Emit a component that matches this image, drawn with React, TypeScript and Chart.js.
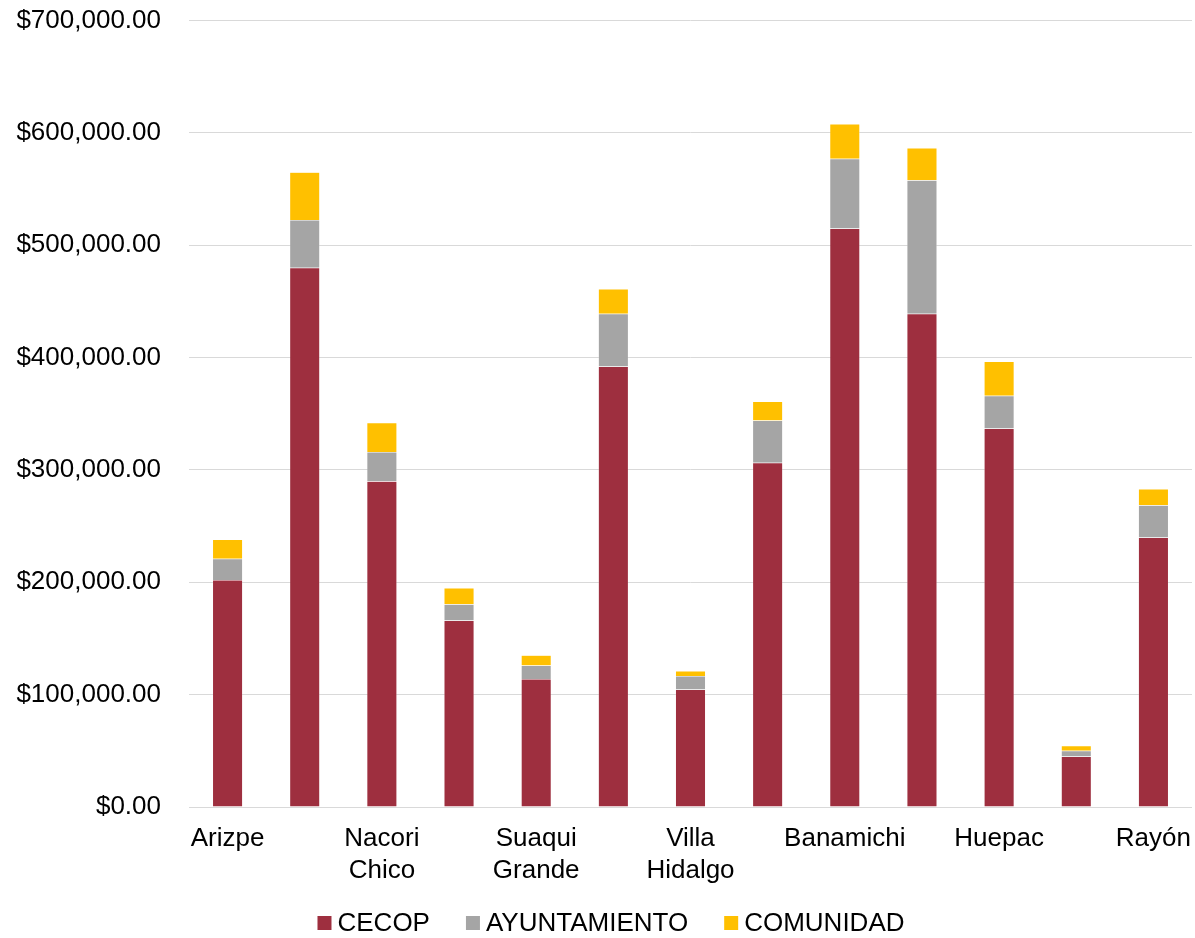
import React, { useEffect, useRef } from "react";
import { Chart, registerables } from "chart.js";

Chart.register(...registerables);

// Category labels (Excel skipped every other label; hidden ones are unreadable)
const categories: (string | string[])[] = [
  "Arizpe", "", ["Nacori", "Chico"], "", ["Suaqui", "Grande"], "", ["Villa", "Hidalgo"],
  "", "Banamichi", "", "Huepac", "", "Rayón",
];

const cecop = [202000, 480000, 290000, 166000, 114000, 392000, 104500, 306500, 515000, 439000, 337000, 45000, 240000];
const ayuntamiento = [19000, 42500, 26000, 14500, 12000, 47000, 12000, 37500, 62000, 119000, 29000, 5000, 28500];
const comunidad = [17000, 42500, 26000, 14500, 9000, 22000, 4500, 17000, 31000, 28500, 30500, 4500, 14500];

const seriesNames = ["CECOP", "AYUNTAMIENTO", "COMUNIDAD"];
const seriesColors = ["#9E2F3F", "#A5A5A5", "#FFC000"];

const FONT = "'Liberation Sans', Arial, sans-serif";
const FONT_SIZE = 26;

// canvas is slightly larger than the page and shifted up to trim Chart.js' top padding
const SHIFT_Y = 23;
const CANVAS_W = 1207;
const CANVAS_H = 938 + SHIFT_Y;

// Custom legend drawn below the axis (box, small gap, text)
const legendPlugin = {
  id: "customLegend",
  afterDraw(chart: any) {
    const ctx = chart.ctx as CanvasRenderingContext2D;
    const ds = chart.data.datasets;
    ctx.save();
    ctx.font = `${FONT_SIZE}px ${FONT}`;
    ctx.textBaseline = "middle";
    ctx.textAlign = "left";
    const box = 14, gapText = 6, gapItem = 36;
    const widths = ds.map((d: any) => ctx.measureText(d.label).width);
    const total = widths.reduce((a: number, w: number) => a + box + gapText + w, 0) + gapItem * (ds.length - 1);
    let x = 611 - total / 2;
    const cy = 923 + SHIFT_Y;
    ds.forEach((d: any, i: number) => {
      ctx.fillStyle = d.backgroundColor;
      ctx.fillRect(x, cy - box / 2, box, box);
      x += box + gapText;
      ctx.fillStyle = "#000";
      ctx.fillText(d.label, x, cy + 1);
      x += widths[i] + gapItem;
    });
    ctx.restore();
  },
};

export default function App() {
  const ref = useRef<HTMLCanvasElement | null>(null);
  useEffect(() => {
    if (!ref.current) return;
    const series = [cecop, ayuntamiento, comunidad];
    const chart = new Chart(ref.current, {
      type: "bar",
      data: {
        labels: categories,
        datasets: series.map((d, i) => ({
          label: seriesNames[i],
          data: d,
          backgroundColor: seriesColors[i],
          borderColor: "rgba(255,255,255,0.5)",
          borderWidth: 0.5,
          categoryPercentage: 1,
          barPercentage: 0.39,
        })),
      },
      plugins: [legendPlugin],
      options: {
        animation: false,
        responsive: false,
        maintainAspectRatio: false,
        layout: { padding: { top: 0, right: 0, left: 0, bottom: 35 } },
        plugins: {
          tooltip: { enabled: false },
          legend: { display: false },
        },
        scales: {
          x: {
            stacked: true,
            grid: { display: false, drawTicks: false },
            border: { display: true, color: "#d9d9d9", width: 1 },
            ticks: {
              autoSkip: false,
              maxRotation: 0,
              padding: 16,
              color: "#000",
              font: { family: FONT, size: FONT_SIZE, lineHeight: 1.23 },
            },
            afterFit(scale: any) {
              scale.height = 96;
            },
          },
          y: {
            stacked: true,
            min: 0,
            max: 700000,
            grid: { color: "#d9d9d9", lineWidth: 1, drawTicks: false },
            border: { display: false },
            ticks: {
              stepSize: 100000,
              padding: 28,
              color: "#000",
              font: { family: FONT, size: FONT_SIZE },
              callback: (v: any) =>
                "$" + Number(v).toLocaleString("en-US", { minimumFractionDigits: 2, maximumFractionDigits: 2 }),
            },
            afterFit(scale: any) {
              scale.width = 189;
            },
          },
        },
      },
    });
    return () => chart.destroy();
  }, []);
  return (
    <div style={{ position: "fixed", left: 0, top: -SHIFT_Y, width: CANVAS_W, height: CANVAS_H, background: "#fff" }}>
      <canvas ref={ref} width={CANVAS_W} height={CANVAS_H} style={{ width: CANVAS_W, height: CANVAS_H, display: "block" }} />
    </div>
  );
}
